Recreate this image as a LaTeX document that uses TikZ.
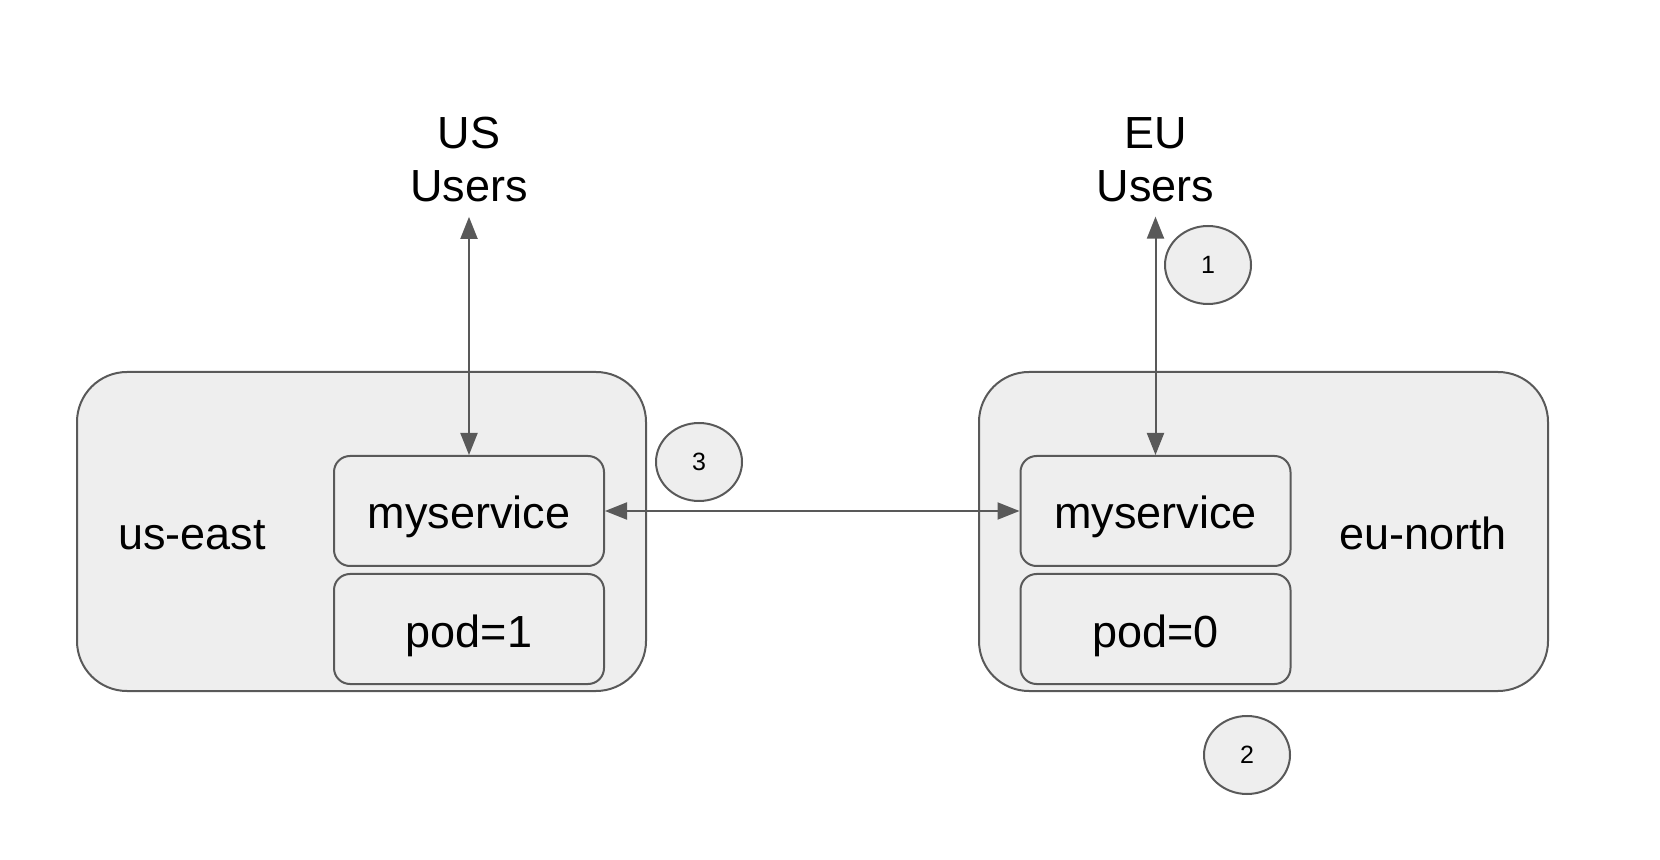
\documentclass[tikz,border=0pt]{standalone}
\usepackage{fontspec}
\setmainfont{Liberation Sans}
\usepackage{tikz}
\usetikzlibrary{positioning,shapes.geometric,arrows.meta}
\definecolor{boxfill}{HTML}{EEEEEE}
\definecolor{boxline}{HTML}{595959}

\tikzset{
  region/.style={draw=boxline,fill=boxfill,line width=1pt,rounded corners=25pt,
    minimum width=284.5pt,minimum height=159.5pt},
  svcbox/.style={draw=boxline,fill=boxfill,line width=1pt,rounded corners=8pt,
    minimum width=135pt,minimum height=55pt,inner sep=0pt,
    text height=22pt,text depth=4pt,
    font=\fontsize{22.5}{27}\selectfont},
  bigtext/.style={font=\fontsize{22.5}{26.5}\selectfont,align=center,inner sep=0pt},
  stepnum/.style={ellipse,draw=boxline,fill=boxfill,line width=1pt,
    minimum width=43pt,minimum height=39pt,inner sep=0pt,
    font=\fontsize{12.5}{14}\selectfont},
  link/.style={draw=boxline,line width=1pt,{Triangle[length=11pt,width=8.5pt]}-{Triangle[length=11pt,width=8.5pt]}}
}

\begin{document}
\begin{tikzpicture}[x=0.5pt,y=-0.5pt]
    \useasboundingbox (0,0) rectangle (1660,860);
    % regions
    \node[region] (useast) at (361.5,531.5) {};
    \node[region] (eunorth) at (1263.5,531.5) {};
    \node[bigtext] at (192,535) {us-east};
    \node[bigtext] at (1423,533) {eu-north};
    % services and pods
    \node[svcbox] (ussvc) at (469,511) {myservice};
    \node[svcbox,below=3pt of ussvc] (uspod) {pod=1};
    \node[svcbox] (eusvc) at (1155.5,511) {myservice};
    \node[svcbox,below=3pt of eusvc] (eupod) {pod=0};
    % users
    \node[bigtext] (ususers) at (469,160) {US\\Users};
    \node[bigtext] (euusers) at (1155.5,160) {EU\\Users};
    % links
    \draw[link,shorten <=7pt] (ususers.south) -- (ussvc.north);
    \draw[link,shorten <=7pt] (euusers.south) -- (eusvc.north);
    \draw[link] (ussvc.east) -- (eusvc.west);
    % steps
    \node[stepnum] (s1) at (1208,265) {1};
    \node[stepnum] (s2) at (1247,755) {2};
    \node[stepnum] (s3) at (699,462) {3};
\end{tikzpicture}
\end{document}
